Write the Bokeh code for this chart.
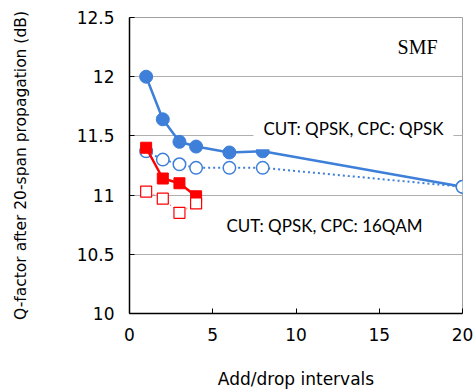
from bokeh.plotting import figure
from bokeh.models import Label, Range1d, FixedTicker, Title
from bokeh.embed import file_html
from bokeh.resources import INLINE

# Data
x_qpsk = [1, 2, 3, 4, 6, 8, 20]
q_qpsk_filled = [12.00, 11.64, 11.45, 11.41, 11.36, 11.37, 11.07]
q_qpsk_open = [11.37, 11.30, 11.26, 11.23, 11.23, 11.23, 11.07]
x_16qam = [1, 2, 3, 4]
q_16qam_filled = [11.40, 11.14, 11.10, 10.99]
q_16qam_open = [11.03, 10.97, 10.85, 10.93]
x_ticks = [0, 5, 10, 15, 20]
y_ticks = [10, 10.5, 11, 11.5, 12, 12.5]

BLUE = "#3d7fd9"
RED = "#ff0000"

p = figure(frame_width=333, frame_height=296, output_backend="svg", toolbar_location=None,
           x_range=Range1d(0, 20), y_range=Range1d(10, 12.5),
           min_border_left=129, min_border_right=12, min_border_top=17, min_border_bottom=0)
p.outline_line_color = "#a0a0a0"
p.outline_line_width = 1
p.background_fill_color = "white"

p.xgrid.grid_line_color = None
p.ygrid.grid_line_color = "#b0b0b0"
p.ygrid.grid_line_width = 1

for ax in (p.xaxis[0], p.yaxis[0]):
    ax.axis_line_color = "black"
    ax.axis_line_width = 1.5
    ax.major_tick_in = 5
    ax.major_tick_out = 0
    ax.minor_tick_in = 0
    ax.minor_tick_out = 0
    ax.major_tick_line_color = "black"
    ax.major_label_text_font = "DejaVu Sans"
    ax.major_label_text_font_size = "17px"
    ax.major_label_text_color = "black"
    ax.axis_label_text_font = "DejaVu Sans"
    ax.axis_label_text_font_size = "15.5px"
    ax.axis_label_text_font_style = "normal"
    ax.axis_label_text_color = "black"

p.xaxis.ticker = FixedTicker(ticks=x_ticks)
p.yaxis.ticker = FixedTicker(ticks=y_ticks)
p.xaxis.major_label_standoff = 14
p.yaxis.major_label_standoff = 15
p.yaxis.axis_label = "Q-factor after 20-span propagation (dB)"
p.yaxis.axis_label_standoff = 44

xtitle = Title(text="Add/drop intervals", align="center", offset=-23,
               text_font="DejaVu Sans", text_font_size="17px", vertical_align="bottom",
               text_font_style="normal", text_color="black", standoff=46)
p.add_layout(xtitle, "below")

# Blue series
p.line(x_qpsk, q_qpsk_open, line_color=BLUE, line_width=2, line_dash="2 3")
p.line(x_qpsk, q_qpsk_filled, line_color=BLUE, line_width=2.5)
p.scatter(x_qpsk, q_qpsk_filled, size=13, marker="circle", fill_color=BLUE, line_color=BLUE)
p.scatter(x_qpsk, q_qpsk_open, size=12.5, marker="circle", fill_color="white", line_color=BLUE, line_width=1.5)

# Red series
p.line(x_16qam, q_16qam_open, line_color=RED, line_width=1, line_dash="1 3")
p.line(x_16qam, q_16qam_filled, line_color=RED, line_width=2.5)
p.scatter(x_16qam, q_16qam_filled, size=11, marker="square", fill_color=RED, line_color=RED)
p.scatter(x_16qam, q_16qam_open, size=11, marker="square", fill_color="white", line_color=RED, line_width=1.2)

# Annotations
lab1 = Label(x=13.45, y=11.56, text="CUT: QPSK, CPC: QPSK", text_font="Lato",
             text_font_size="17px", text_align="center", text_baseline="middle",
             text_color="black", background_fill_color="white", padding=10)
lab2 = Label(x=11.71, y=10.74, text="CUT: QPSK, CPC: 16QAM", text_font="Lato",
             text_font_size="17px", text_align="center", text_baseline="middle",
             text_color="black")
lab3 = Label(x=17.3, y=12.25, text="SMF", text_font="Liberation Serif",
             text_font_size="20px", text_align="center", text_baseline="middle",
             text_color="black")
for l in (lab1, lab2, lab3):
    p.add_layout(l)

open("out.html", "w").write(file_html(p, INLINE))
